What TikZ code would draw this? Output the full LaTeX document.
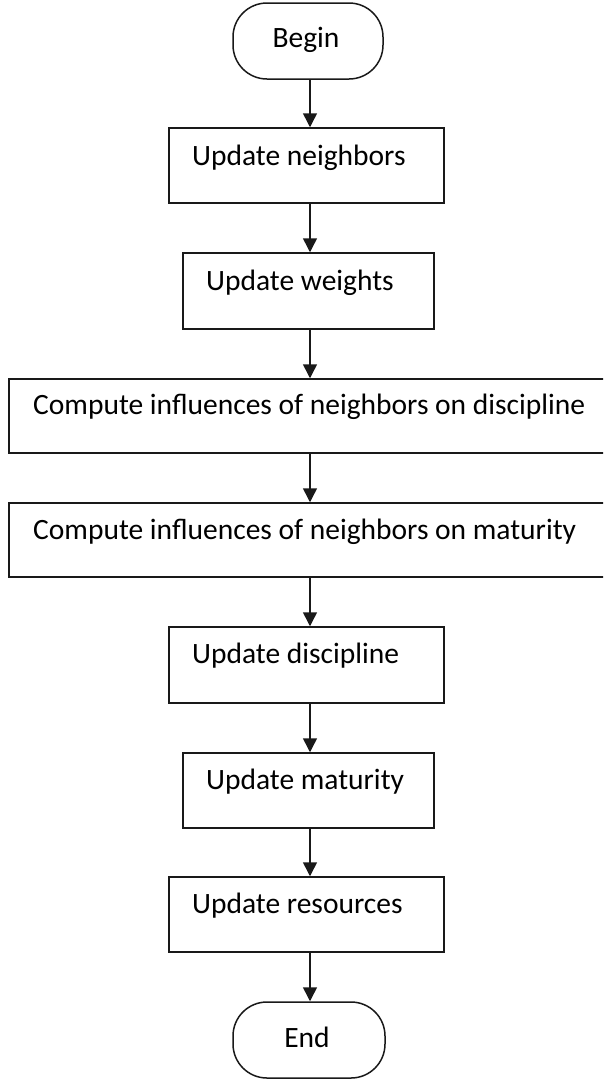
\documentclass[tikz,border=0pt]{standalone}
\usepackage{fontspec}
\setmainfont{Carlito}
\usetikzlibrary{arrows.meta}
\begin{document}
\begin{tikzpicture}[x=1pt,y=-1pt,
  stepbox/.style={draw=black!90, line width=1.5pt, rectangle, inner sep=0pt},
  term/.style={stepbox, rounded corners=34pt},
  txt/.style={font=\fontsize{29.5}{32}\selectfont, inner sep=0pt, anchor=base west, text=black},
  ctxt/.style={txt, anchor=base},
  flow/.style={draw=black!90, line width=1.5pt, -{Triangle[width=14pt,length=14pt]}}
]
\useasboundingbox (0,0) rectangle (603,1080);
\clip (0,0) rectangle (603,1080);

% terminals
\node[term, minimum width=150pt, minimum height=76pt] (begin) at (308,41) {};
\node[term, minimum width=152pt, minimum height=76pt] (end) at (309,1040) {};

% process steps
\node[stepbox, minimum width=275pt, minimum height=75pt] (b1) at (306.5,165.5) {};
\node[stepbox, minimum width=251pt, minimum height=76pt] (b2) at (308.5,291) {};
\node[stepbox, minimum width=606pt, minimum height=74pt] (b3) at (312,416) {};
\node[stepbox, minimum width=606pt, minimum height=74pt] (b4) at (312,540) {};
\node[stepbox, minimum width=275pt, minimum height=76pt] (b5) at (306.5,665) {};
\node[stepbox, minimum width=251pt, minimum height=75pt] (b6) at (308.5,790.5) {};
\node[stepbox, minimum width=275pt, minimum height=75pt] (b7) at (306.5,914.5) {};

% labels
\node[ctxt] (tbegin) at (306,47) {Begin};
\node[ctxt] (tend) at (307,1047) {End};
\node[txt] (t1) at (192,165) {Update neighbors};
\node[txt] (t2) at (206,290) {Update weights};
\node[txt] (t3) at (33,414) {Compute influences of neighbors on discipline};
\node[txt] (t4) at (33,539) {Compute influences of neighbors on maturity};
\node[txt] (t5) at (192,663) {Update discipline};
\node[txt] (t6) at (206,789) {Update maturity};
\node[txt] (t7) at (192,913) {Update resources};

% flow line
\coordinate (ax) at (310,0);
\draw[flow] (begin.south -| ax) -- (b1.north -| ax);
\draw[flow] (b1.south -| ax) -- (b2.north -| ax);
\draw[flow] (b2.south -| ax) -- (b3.north -| ax);
\draw[flow] (b3.south -| ax) -- (b4.north -| ax);
\draw[flow] (b4.south -| ax) -- (b5.north -| ax);
\draw[flow] (b5.south -| ax) -- (b6.north -| ax);
\draw[flow] (b6.south -| ax) -- (b7.north -| ax);
\draw[flow] (b7.south -| ax) -- (end.north -| ax);
\end{tikzpicture}
\end{document}
